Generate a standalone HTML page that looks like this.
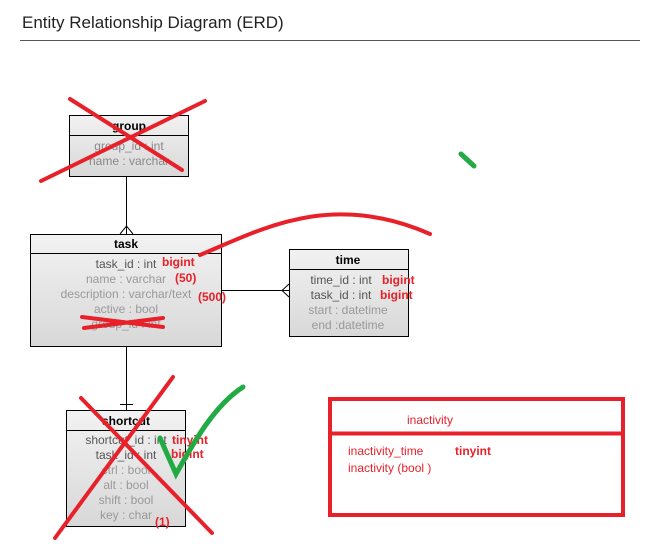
<!DOCTYPE html>
<html><head><style>
body{margin:0;background:#fff;}
svg text{font-family:"Liberation Sans",Arial,sans-serif;}
</style></head><body>
<svg width="660" height="546" xmlns="http://www.w3.org/2000/svg">
<defs>
<linearGradient id="g" x1="0" y1="0" x2="0" y2="1"><stop offset="0" stop-color="#f2f2f2"/><stop offset="1" stop-color="#d8d8d8"/></linearGradient>
</defs>
<text x="22" y="28" font-size="17" fill="#222">Entity Relationship Diagram (ERD)</text>
<line x1="20" y1="40.5" x2="640" y2="40.5" stroke="#555"/>

<g stroke="#000" fill="none">
<line x1="126.5" y1="176" x2="126.5" y2="234"/>
<path d="M120 234 L126.5 226 L133 234"/>
<line x1="221" y1="290.5" x2="289" y2="290.5"/>
<path d="M289 284 L282 290.5 L289 297"/>
<line x1="126.5" y1="346" x2="126.5" y2="410"/>
<line x1="120" y1="404.5" x2="133" y2="404.5"/>
</g>

<rect x="69.5" y="115.5" width="119" height="61" fill="url(#g)" stroke="#000"/>
<line x1="69.5" y1="135.5" x2="188.5" y2="135.5" stroke="#000"/>
<text x="129" y="130" font-size="12" font-weight="bold" text-anchor="middle">group</text>
<g font-size="12" fill="#888" text-anchor="middle">
<text x="129" y="150">group_id : int</text>
<text x="129" y="165">name : varchar</text>
</g>

<rect x="30.5" y="234.5" width="191" height="112" fill="url(#g)" stroke="#000"/>
<line x1="30.5" y1="253.5" x2="221.5" y2="253.5" stroke="#000"/>
<text x="126" y="248" font-size="12" font-weight="bold" text-anchor="middle">task</text>
<g font-size="12" text-anchor="middle">
<text x="126" y="268" fill="#555">task_id : int</text>
<text x="126" y="283" fill="#999">name : varchar</text>
<text x="126" y="298" fill="#999">description : varchar/text</text>
<text x="126" y="313" fill="#999">active : bool</text>
<text x="126" y="328" fill="#999">group_id : int</text>
</g>

<rect x="289.5" y="249.5" width="119" height="87" fill="url(#g)" stroke="#000"/>
<line x1="289.5" y1="269.5" x2="408.5" y2="269.5" stroke="#000"/>
<text x="348" y="264" font-size="12" font-weight="bold" text-anchor="middle">time</text>
<g font-size="12" text-anchor="middle">
<text x="341" y="284" fill="#555">time_id : int</text>
<text x="341" y="299" fill="#555">task_id : int</text>
<text x="348" y="314" fill="#999">start  : datetime</text>
<text x="348" y="329" fill="#999">end :datetime</text>
</g>

<rect x="66.5" y="410.5" width="119" height="116" fill="url(#g)" stroke="#000"/>
<line x1="66.5" y1="430.5" x2="185.5" y2="430.5" stroke="#000"/>
<text x="126" y="425" font-size="12" font-weight="bold" text-anchor="middle">shortcut</text>
<g font-size="12" text-anchor="middle">
<text x="126" y="444" fill="#555">shortcut_id : int</text>
<text x="126" y="459" fill="#555">task_id : int</text>
<text x="126" y="474" fill="#999">ctrl : bool</text>
<text x="126" y="489" fill="#999">alt : bool</text>
<text x="126" y="504" fill="#999">shift : bool</text>
<text x="126" y="519" fill="#999">key : char</text>
</g>

<g font-size="12" font-weight="bold" fill="#e8202a">
<text x="162" y="266">bigint</text>
<text x="175" y="282">(50)</text>
<text x="198" y="301">(500)</text>
<text x="382" y="284">bigint</text>
<text x="380" y="299">bigint</text>
<text x="172" y="444">tinyint</text>
<text x="171" y="458">bigint</text>
<text x="155" y="526">(1)</text>
<text x="455" y="455">tinyint</text>
</g>
<g font-size="12" fill="#e8202a">
<text x="407" y="424">inactivity</text>
<text x="348" y="455">inactivity_time</text>
<text x="348" y="472">inactivity (bool )</text>
</g>
<rect x="330" y="399" width="293" height="116" fill="none" stroke="#e8202a" stroke-width="4"/>
<line x1="330" y1="433.5" x2="625" y2="433.5" stroke="#e8202a" stroke-width="4"/>

<g stroke="#e8202a" stroke-width="4" stroke-linecap="round" fill="none">
<line x1="70" y1="99" x2="182" y2="170"/>
<line x1="205" y1="101" x2="41" y2="181"/>
<line x1="82" y1="317" x2="163" y2="327"/>
<line x1="84" y1="328" x2="163" y2="318"/>
<path d="M200 255 C260 230 330 190 430 234"/>
<line x1="81" y1="398" x2="212" y2="533"/>
<line x1="173" y1="377" x2="55" y2="538"/>
</g>
<g stroke="#22aa44" stroke-width="5" stroke-linecap="round" fill="none">
<path d="M160 438 L176 474 C195 440 215 405 243 387"/>
<path d="M461 154 L474 166"/>
</g>
</svg>
</body></html>
